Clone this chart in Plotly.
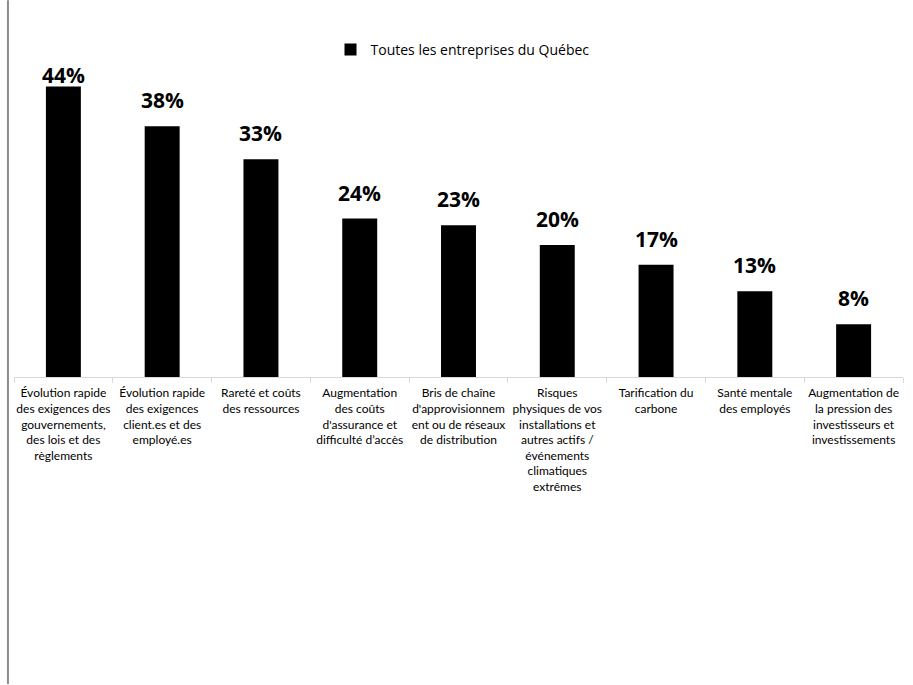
import plotly.graph_objs as go

# catégories (libellés avec retours à la ligne comme dans l'original)
categories = [
    "Évolution rapide<br>des exigences des<br>gouvernements,<br>des lois et des<br>règlements",
    "Évolution rapide<br>des exigences<br>client.es et des<br>employé.es",
    "Rareté et coûts<br>des ressources",
    "Augmentation<br>des coûts<br>d'assurance et<br>difficulté d’accès",
    "Bris de chaîne<br>d'approvisionnem<br>ent ou de réseaux<br>de distribution",
    "Risques<br>physiques de vos<br>installations et<br>autres actifs /<br>événements<br>climatiques<br>extrêmes",
    "Tarification du<br>carbone",
    "Santé mentale<br>des employés",
    "Augmentation de<br>la pression des<br>investisseurs et<br>investissements",
]
values = [44, 38, 33, 24, 23, 20, 17, 13, 8]
series_name = "Toutes les entreprises du Québec"

FONT = "Open Sans"
TICK_FONT = "Lato"
Y_MAX = 50

fig = go.Figure()

fig.add_trace(
    go.Bar(
        name=series_name,
        x=categories,
        y=values,
        marker_color="black",
        marker_line_width=0,
        hoverinfo="skip",
    )
)

# étiquettes de données (comme Excel : repoussées sous le haut de la zone)
label_offset = 26 / 6.6
label_cap = 45.8
for cat, v in zip(categories, values):
    fig.add_annotation(
        x=cat,
        y=min(v + label_offset, label_cap),
        text=f"<b>{v}%</b>",
        showarrow=False,
        yanchor="middle",
        font=dict(family=FONT, size=21, color="black"),
    )

# ligne verticale grise à gauche
fig.add_shape(
    type="line",
    xref="paper", yref="paper",
    x0=-0.0068, x1=-0.0068,
    y0=1.142, y1=-0.93,
    line=dict(color="#8c8c8c", width=2),
)

fig.update_layout(
    width=913,
    height=685,
    margin=dict(l=14, r=10, t=47, b=308, autoexpand=False),
    plot_bgcolor="white",
    paper_bgcolor="white",
    bargap=0.646,
    font=dict(family=FONT, size=12, color="black"),
    showlegend=True,
    legend=dict(
        xref="container", yref="container",
        x=0.362, y=0.927,
        xanchor="left", yanchor="middle",
        orientation="h",
        font=dict(family=FONT, size=14, color="black"),
        bgcolor="rgba(0,0,0,0)",
    ),
)

fig.update_xaxes(
    showline=True,
    linecolor="#d9d9d9",
    linewidth=1,
    ticks="outside",
    tickson="boundaries",
    ticklen=5,
    tickcolor="#d9d9d9",
    tickangle=0,
    ticklabelstandoff=5,
    automargin=False,
    showgrid=False,
    tickfont=dict(family=TICK_FONT, size=12, color="black"),
)
fig.update_yaxes(
    range=[0, Y_MAX],
    visible=False,
    showgrid=False,
)

# pas de marge de page autour du graphique, pas de barre d'outils
fig.write_html(
    "out.html",
    config={"displayModeBar": False},
    post_script="document.body.style.margin='0';",
)
